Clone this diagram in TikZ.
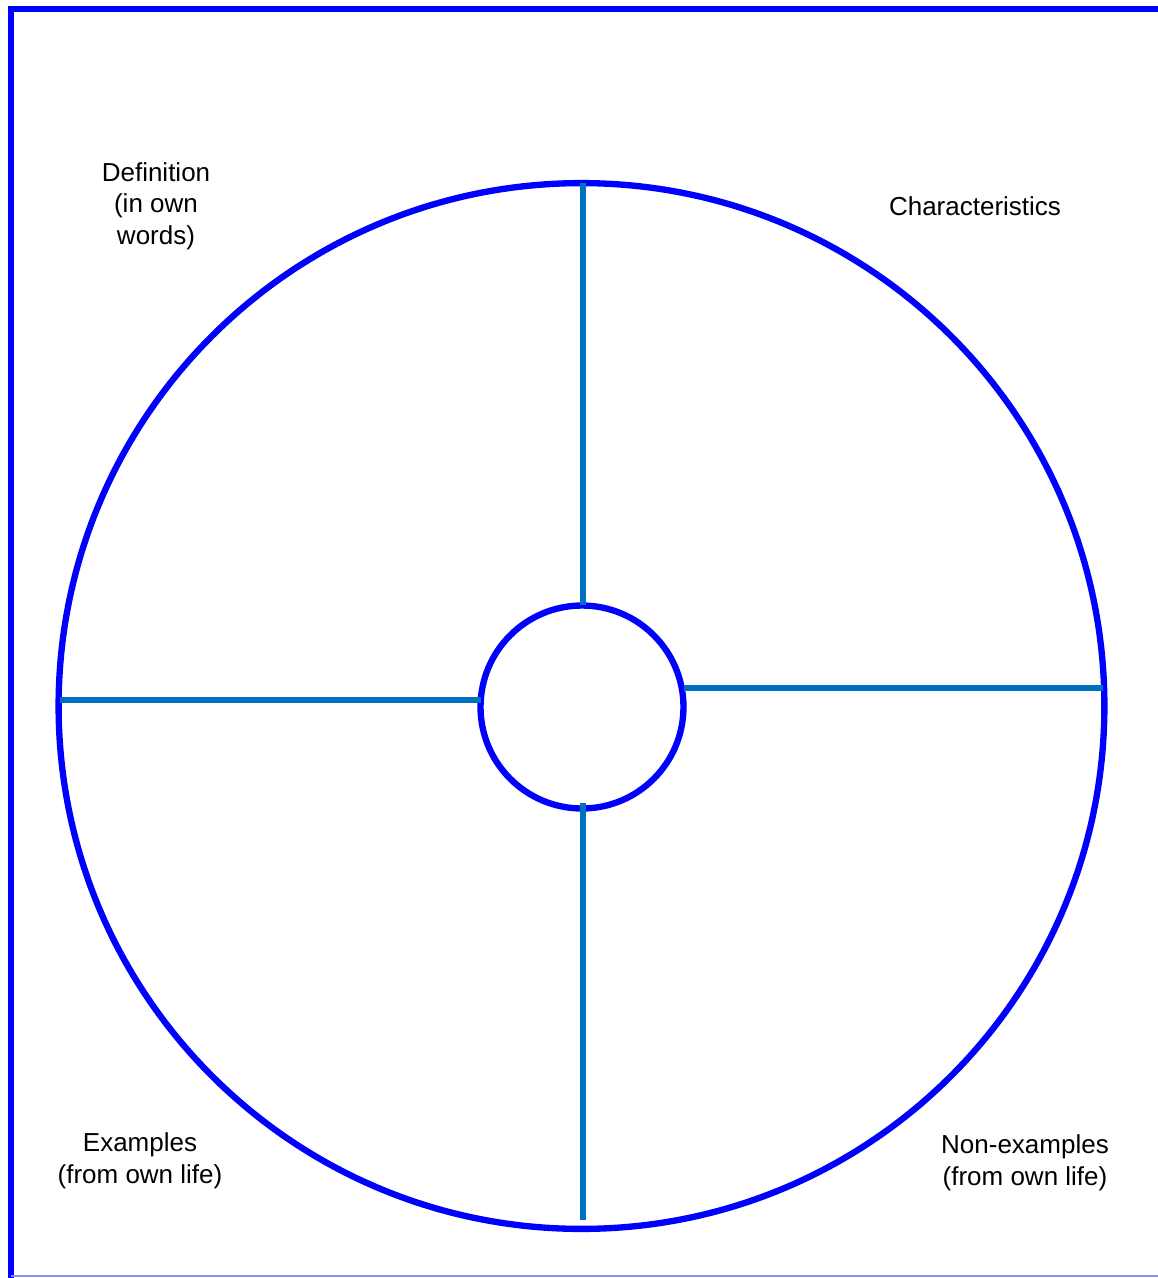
\documentclass[tikz,border=0pt]{standalone}
\usepackage{fontspec}
\setmainfont{Liberation Sans}
\usetikzlibrary{positioning,calc}
\definecolor{ringblue}{RGB}{0,0,255}
\definecolor{spokeblue}{RGB}{0,112,192}
\tikzset{
  ring/.style={circle, draw=ringblue, line width=3.6pt, inner sep=0pt},
  spoke/.style={draw=spokeblue, line width=3.6pt},
  quadlabel/.style={align=center, inner sep=0pt, font=\fontsize{14.8}{18}\selectfont}
}
\begin{document}
\begin{tikzpicture}[x=0.02cm,y=-0.02cm]
\useasboundingbox (0,0) rectangle (1158,1278);
% frame, cut at the right edge
\draw[ringblue, line width=3.2pt] (11,1278) -- (11,9) -- (1158,9);
\draw[ringblue!45, line width=1.2pt] (11,1276) -- (1158,1276);
% circles
\node[ring, minimum size=20.92cm] (outer) at (581.5,706) {};
\node[ring, minimum size=4.06cm] (inner) at (582,707) {};
% spokes
\coordinate (ntop) at (583,183);  \coordinate (nbot) at (583,605);
\coordinate (stop) at (583,803);  \coordinate (sbot) at (583,1220);
\coordinate (wout) at (60,700);   \coordinate (win) at (481,700);
\coordinate (ein) at (684,688);   \coordinate (eout) at (1103,688);
\draw[spoke] (ntop) -- (nbot);
\draw[spoke] (stop) -- (sbot);
\draw[spoke] (wout) -- (win);
\draw[spoke] (ein) -- (eout);
% quadrant labels
\node[quadlabel] (defn) at (156,206) {Definition\\(in own\\words)};
\node[quadlabel] (chars) at (975,206) {Characteristics};
\node[quadlabel] (exmp) at (140,1161) {Examples\\(from own life)};
\node[quadlabel] (nonex) at (1025,1163) {Non-examples\\(from own life)};
\end{tikzpicture}
\end{document}
